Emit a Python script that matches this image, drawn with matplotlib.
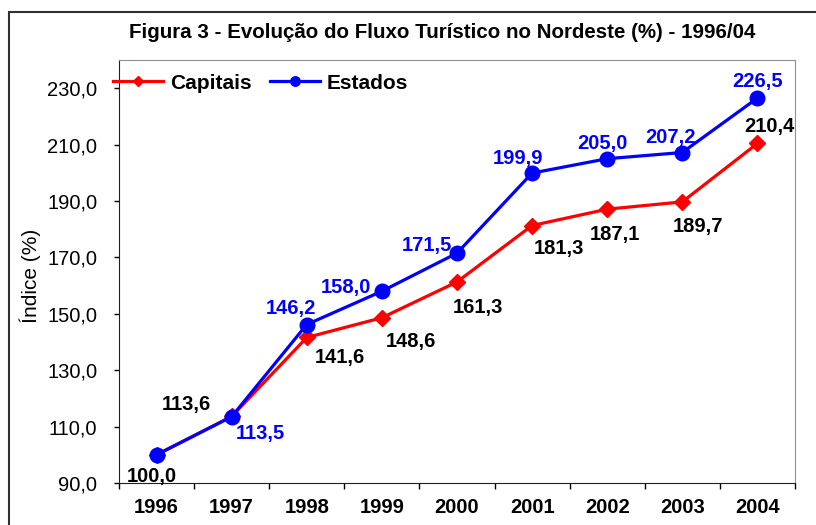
import matplotlib
matplotlib.use("Agg")
import matplotlib.pyplot as plt
from matplotlib.patches import Rectangle

plt.rcParams['font.family'] = ['Liberation Sans', 'DejaVu Sans']

years = ['1996', '1997', '1998', '1999', '2000', '2001', '2002', '2003', '2004']
capitais = [100.0, 113.6, 141.6, 148.6, 161.3, 181.3, 187.1, 189.7, 210.4]
estados = [100.0, 113.5, 146.2, 158.0, 171.5, 199.9, 205.0, 207.2, 226.5]

# label offsets in points
cap_offsets = [(-3.6, -15.8), (-32.4, 8.6), (23.8, -14.4), (20.9, -17.3), (15.1, -18.7),
               (19.4, -16.6), (5.8, -18), (11.5, -18), (8.6, 12.2)]
est_offsets = [None, (20.9, -12.2), (-11.5, 11.5), (-25.9, 2.9), (-21.6, 5.8),
               (-10, 10.8), (-3.6, 10.8), (-8.6, 10.8), (0, 12.2)]

fig = plt.figure(figsize=(8.16, 5.25), dpi=100)
ax = fig.add_axes([0.1458, 0.08, 0.8284, 0.8057])

x = list(range(len(years)))
ax.plot(x, capitais, color='#FF0000', lw=2.3, marker='D', ms=8.5, label='Capitais', zorder=3)
ax.plot(x, estados, color='#0000FF', lw=2.3, marker='o', ms=10.5, label='Estados', zorder=4)

for i in x:
    dx, dy = cap_offsets[i]
    ax.annotate(f"{capitais[i]:.1f}".replace('.', ','), (i, capitais[i]), xytext=(dx, dy),
                textcoords='offset points', ha='center', va='center', fontsize=14.5,
                fontweight='bold', color='black', zorder=5)
    if est_offsets[i] is not None:
        dx, dy = est_offsets[i]
        ax.annotate(f"{estados[i]:.1f}".replace('.', ','), (i, estados[i]), xytext=(dx, dy),
                    textcoords='offset points', ha='center', va='center', fontsize=14.5,
                    fontweight='bold', color='#0000FF', zorder=5)

ax.set_xlim(-0.5, len(years) - 0.5)
ax.set_ylim(90, 240)
ax.set_yticks(range(90, 231, 20))
ax.set_yticklabels([f"{v},0" for v in range(90, 231, 20)], fontsize=14.5)
ax.tick_params(axis='y', direction='out', length=3.6, width=1, pad=12)

ax.set_xticks([i - 0.5 for i in range(len(years) + 1)])
ax.set_xticklabels([])
ax.set_xticks(x, minor=True)
ax.set_xticklabels(years, minor=True, fontsize=14.5, fontweight='bold')
ax.tick_params(axis='x', which='major', direction='out', length=4, width=1)
ax.tick_params(axis='x', which='minor', length=0, pad=11)

ax.set_ylabel('Índice (%)', fontsize=15)
ax.yaxis.set_label_coords(-0.115, 0.49)

for s in ['top', 'right']:
    ax.spines[s].set_color('#909090')
for s in ['left', 'bottom']:
    ax.spines[s].set_color('#202020')

ax.legend(loc='upper left', bbox_to_anchor=(-0.036, 1.012), ncol=2, frameon=False,
          prop={'weight': 'bold', 'size': 15}, handlelength=2.4, columnspacing=0.9,
          markerscale=0.65, handletextpad=0.3)

fig.text(0.542, 0.939, 'Figura 3 - Evolução do Fluxo Turístico no Nordeste (%) - 1996/04',
         ha='center', va='center', fontsize=14.8, fontweight='bold')

fig.patches.append(Rectangle((0.011, -0.1), 1.2, 1.077, transform=fig.transFigure,
                             fill=False, edgecolor='#303030', lw=1.5))

fig.savefig('out.png', dpi=100)
